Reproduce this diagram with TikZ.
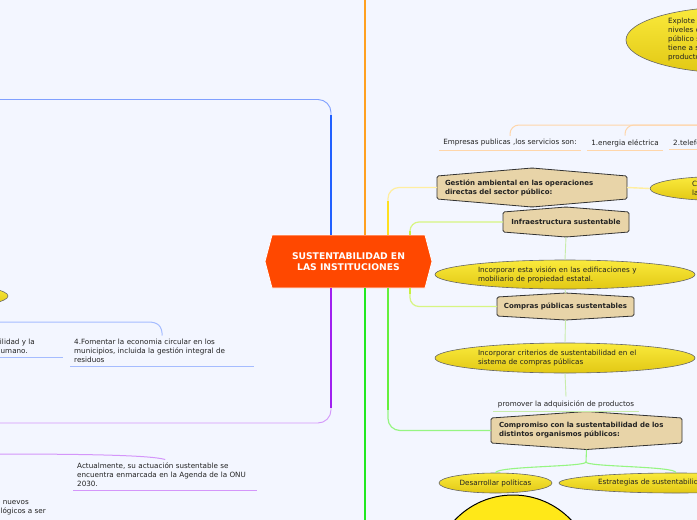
\documentclass[tikz,border=0pt]{standalone}
\usepackage{fontspec}
\setmainfont{DejaVu Sans}
\usetikzlibrary{shapes.geometric}
\definecolor{bgc}{RGB}{243,246,255}
\definecolor{cent}{RGB}{255,72,0}
\definecolor{orng}{RGB}{255,160,32}
\definecolor{orngl}{RGB}{255,214,170}
\definecolor{blu}{RGB}{32,96,255}
\definecolor{blul}{RGB}{128,160,255}
\definecolor{blull}{RGB}{165,188,255}
\definecolor{purp}{RGB}{160,32,240}
\definecolor{purpl}{RGB}{212,150,250}
\definecolor{grn}{RGB}{32,232,32}
\definecolor{yelc}{RGB}{255,224,32}
\definecolor{yellc}{RGB}{255,238,160}
\definecolor{limec}{RGB}{200,240,64}
\definecolor{limel}{RGB}{215,245,130}
\definecolor{grn2}{RGB}{100,240,60}
\definecolor{grn2l}{RGB}{150,245,130}
\definecolor{pale}{RGB}{200,236,170}
\definecolor{tanc}{RGB}{232,212,168}
\definecolor{ylt}{RGB}{250,234,60}
\definecolor{ydk}{RGB}{226,200,20}
\definecolor{circy}{RGB}{255,232,24}
\definecolor{txt}{RGB}{34,34,34}
\tikzset{
  tanborder/.style={fill=tanc, draw=black!80, line width=0.8pt, rounded corners=1.5pt},
  tantext/.style={inner sep=0pt, outer sep=0pt, font=\fontsize{7}{9}\selectfont\bfseries, text=txt, align=left},
  yellip/.style={ellipse, top color=ylt, bottom color=ydk, draw=black!60, line width=0.6pt, inner sep=0pt, font=\fontsize{7.2}{9}\selectfont, text=txt, align=left},
  lbl/.style={inner xsep=4pt, inner ysep=3.5pt, font=\fontsize{7.2}{9}\selectfont, text=txt, align=left},
  thinline/.style={line width=0.9pt},
  thickline/.style={line width=2pt},
}
\newcommand{\mytan}[8]{%
  \draw[tanborder] ({#2-#4/2},{#3-#5/2}) -- (#2,{#3-#5/2-#6}) -- ({#2+#4/2},{#3-#5/2}) -- ({#2+#4/2},{#3+#5/2}) -- (#2,{#3+#5/2+#6}) -- ({#2-#4/2},{#3+#5/2}) -- cycle;
  \node[tantext, minimum width=#4, minimum height={#5+2*#6}, #7] (#1) at (#2,#3) {#8};
}
\begin{document}
\begin{tikzpicture}[x=1pt,y=-1pt]
\useasboundingbox (0,0) rectangle (697,520);
\fill[bgc] (0,0) rectangle (697,520);
\clip (0,0) rectangle (697,520);

% free ends
\coordinate (otop) at (365,-5);
\coordinate (btop) at (-5,99.5);
\coordinate (pbot) at (-5,423);
\coordinate (gbot) at (365,525);
\coordinate (oright) at (705,125);
\coordinate (lf) at (-5,322);
\coordinate (la) at (-5,454);

% central node shape
\fill[cent, draw=white, line width=0.8pt] (265,261.5) -- (272,235) -- (425,235) -- (432,261.5) -- (425,288) -- (272,288) -- cycle;
\node[font=\fontsize{9.2}{11.5}\selectfont\bfseries, text=white, align=center, inner sep=0pt, minimum width=153pt, minimum height=53pt] (c) at (348.5,261.5) {SUSTENTABILIDAD EN\\LAS INSTITUCIONES};

% right tan nodes
\mytan{gest}{532}{187.5}{190}{23}{8}{text width=174pt}{Gestión ambiental en las operaciones\\directas del sector público:}
\mytan{infra}{566}{222}{126}{20}{5}{align=center}{Infraestructura sustentable}
\mytan{compras}{565.5}{306.5}{137}{19}{4}{align=center}{Compras públicas sustentables}
\mytan{comp}{586.5}{430.5}{191}{25}{6.5}{text width=175pt}{Compromiso con la sustentabilidad de los\\distintos organismos públicos:}

% main branches
\draw[orng, thickline] ([xshift=16.5pt]c.north) -- (otop);
\draw[grn, thickline] ([xshift=16.5pt]c.south) -- (gbot);
\draw[blul, thinline, rounded corners=13pt] ([xshift=-17.5pt]c.north) |- (btop);
\draw[blu, thickline] ([xshift=-17.5pt]c.north) -- ++(0,-120);
\draw[purpl, thinline, rounded corners=13pt] ([xshift=-17.5pt]c.south) |- (pbot);
\draw[purp, thickline] ([xshift=-17.5pt]c.south) -- ++(0,120);
\draw[yellc, line width=1.2pt, rounded corners=11pt] ([xshift=39.5pt]c.north) |- (gest.west);
\draw[yelc, thickline] ([xshift=39.5pt]c.north) -- ++(0,-34);
\draw[limel, line width=1.2pt, rounded corners=9pt] ([xshift=61.5pt]c.north) |- (infra.west);
\draw[limec, thickline] ([xshift=61.5pt]c.north) -- ++(0,-4);
\draw[limel, line width=1.2pt, rounded corners=9pt] ([xshift=61.5pt]c.south) |- (compras.west);
\draw[limec, thickline] ([xshift=61.5pt]c.south) -- ++(0,6);
\draw[grn2l, line width=1.2pt, rounded corners=12pt] ([xshift=39.5pt]c.south) |- (comp.west);
\draw[grn2, thickline] ([xshift=39.5pt]c.south) -- ++(0,122);

% right ellipses
\node[yellip, minimum width=260pt, minimum height=29pt, text width=174pt] (ell1) at (565,274.5) {Incorporar esta visión en las edificaciones y\\mobiliario de propiedad estatal.};
\node[yellip, minimum width=260pt, minimum height=30pt, text width=174pt] (ell2) at (565,358) {Incorporar criterios de sustentabilidad en el\\sistema de compras públicas};
\node[lbl, inner xsep=5pt] (prom) at (566,404) {promover la adquisición de productos};
\draw[pale, thinline] (prom.south west) -- (prom.south east);

\draw[pale, thinline] (infra.south) -- (ell1.north);
\draw[pale, thinline] (ell1.south) -- (compras.north);
\draw[pale, thinline] (compras.south) -- (ell2.north);
\draw[pale, thinline] (ell2.south) -- (prom.north);

\node[yellip, minimum width=113pt, minimum height=20pt, align=center] (desa) at (495.5,483) {Desarrollar políticas};
\node[yellip, minimum width=234pt, minimum height=20pt] (estr) at (676,483) {\makebox[156pt][l]{Estrategias de sustentabilidad}};
\draw[grn2l, line width=1.1pt] (comp.south) -- (586,462) .. controls (586,467) and (497,466) .. (desa.north);
\draw[grn2l, line width=1.1pt] (586,462) .. controls (586,467) and (676,466) .. (estr.north);

\node[circle, fill=circy, draw=black, line width=1pt, minimum size=160pt, inner sep=0pt] (circ) at (513,575) {};

% top right
\node[yellip, minimum width=216pt, minimum height=66pt, text width=132pt] (expl) at (734,40) {Explote\\niveles de\\público s\\tiene a s\\productos};
\node[yellip, minimum width=140pt, minimum height=24pt, text width=56pt] (cell) at (720,188.5) {C\\la};
\draw[yellc, line width=1.4pt] (gest.east) -- (cell.west);

\node[lbl] (emp) at (510,143) {Empresas publicas ,los servicios son:};
\node[lbl] (ene) at (625,143) {1.energia eléctrica};
\node[lbl, anchor=west] (tel) at (669,143) {2.telefonía};
\draw[orngl, thinline] (emp.south west) -- (emp.south east);
\draw[orngl, thinline] (ene.south west) -- (ene.south east);
\draw[orngl, thinline] (tel.south west) -- (tel.south east);
\draw[orngl, line width=1pt, rounded corners=9pt] (emp.north) |- (oright);
\draw[orngl, line width=1pt, rounded corners=9pt] (ene.north) |- (oright);

% left side
\node[yellip, minimum width=96pt, minimum height=20pt] (lell) at (-40,296) {};
\node[lbl, anchor=north east, align=right] (hum) at (39,335.5) {sustentabilidad y la\\desarrollo humano.\hspace*{7pt}};
\draw[blull, thinline] (hum.south west) -- ([xshift=24pt]hum.south east);
\node[lbl, anchor=north west, text width=176pt] (fom) at (70,335.5) {4.Fomentar la economia circular en los\\municipios, incluida la gestión integral de\\residuos};
\draw[blull, thinline] (fom.south west) -- (fom.south east);
\draw[blull, line width=1pt] (lf) -- (148,322) .. controls (158,322) and (162,326) .. (fom.north);

\node[lbl, anchor=north west, text width=176pt] (act) at (73,459.5) {Actualmente, su actuación sustentable se\\encuentra enmarcada en la Agenda de la ONU\\2030.};
\draw[purpl, thinline] (act.south west) -- (act.south east);
\draw[purpl, line width=1pt] (la) .. controls (80,454) and (150,455) .. (act.north);

\node[lbl, anchor=north east, align=right] (nue) at (50,495.5) {de nuevos\hspace*{17pt}\\tecnológicos a ser};
\end{tikzpicture}
\end{document}
